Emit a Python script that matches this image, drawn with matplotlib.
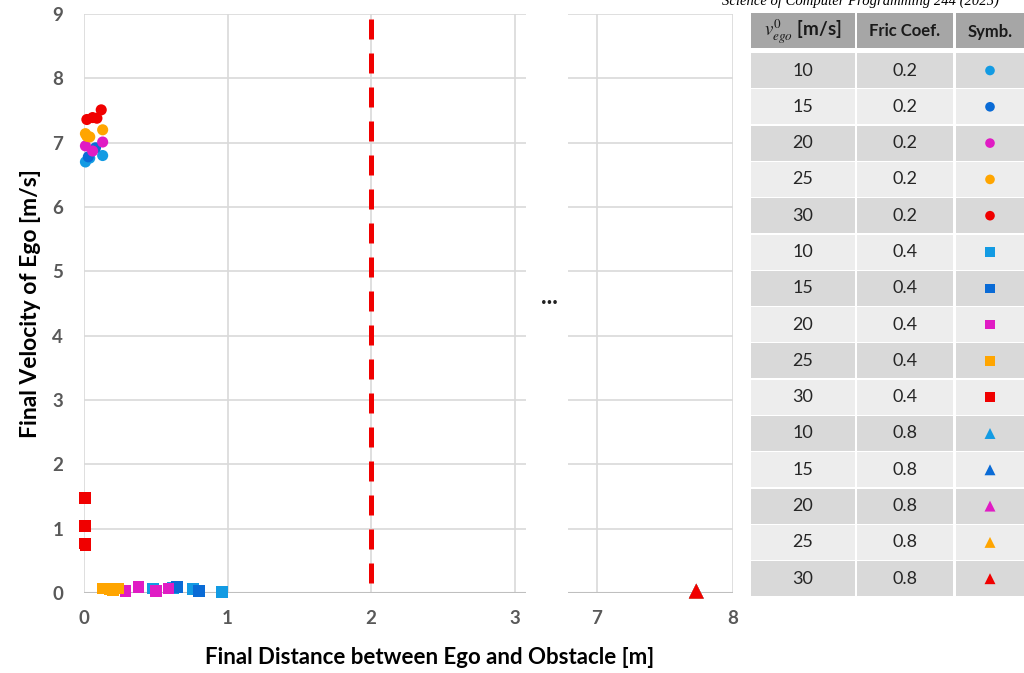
import numpy as np
import matplotlib.pyplot as plt
from matplotlib.patches import Rectangle

plt.rcParams['font.family'] = ['Lato', 'DejaVu Sans']
plt.rcParams['mathtext.fontset'] = 'stix'

# ---- data -------------------------------------------------------------
speeds = [10, 15, 20, 25, 30]
frics = [0.2, 0.4, 0.8]
colors = ['#139be3', '#0a6bd6', '#e01cc4', '#ffa500', '#f00000']
markers = ['o', 's', '^']
msizes = [64, 70, 115]

# fric 0.2 (circles)
circ_x = [[0.01, 0.04, 0.13], [0.03, 0.08], [0.01, 0.06, 0.13],
          [0.02, 0.04, 0.13, 0.01], [0.02, 0.06, 0.09, 0.12]]
circ_y = [[6.70, 6.76, 6.80], [6.78, 6.92], [6.95, 6.87, 7.01],
          [7.10, 7.09, 7.20, 7.14], [7.36, 7.39, 7.38, 7.51]]
# fric 0.4 (squares)
sq_x = [[0.48, 0.62, 0.76, 0.96], [0.65, 0.80], [0.29, 0.38, 0.50, 0.59],
        [0.13, 0.18, 0.20, 0.24], [0.005, 0.005, 0.005, 0.01]]
sq_y = [[0.07, 0.08, 0.06, 0.02], [0.09, 0.03], [0.03, 0.09, 0.03, 0.07],
        [0.07, 0.06, 0.05, 0.07], [1.48, 1.04, 0.77, 0.74]]
# fric 0.8 (triangles)
tri_x = [[7.73], [7.73], [7.73], [7.73], [7.73]]
tri_y = [[0.03], [0.03], [0.03], [0.03], [0.03]]

limit_x = 2.0
limit_y = [0.15, 9.0]

# ---- figure -----------------------------------------------------------
W, H = 1024, 673
fig = plt.figure(figsize=(W / 100, H / 100), dpi=100)

ax1 = fig.add_axes([84 / W, 1 - 593 / H, (526 - 84) / W, (593 - 14) / H])
ax2 = fig.add_axes([568 / W, 1 - 593 / H, (733 - 568) / W, (593 - 14) / H])

tick_col = '#595959'
grid_col = '#d9d9d9'

for ax in (ax1, ax2):
    for s in ax.spines.values():
        s.set_visible(False)
    ax.set_ylim(0, 9)
    ax.set_yticks(range(10))
    ax.grid(True, color=grid_col, lw=1.2)
    ax.set_axisbelow(True)
    ax.axhline(0, color='#bfbfbf', lw=1.5, zorder=1)
    ax.tick_params(length=0, labelsize=13.5, labelcolor=tick_col, pad=15)

ax1.set_xlim(0, 3.08)
ax1.set_xticks([0, 1, 2, 3])
ax2.set_xlim(6.787, 8)
ax2.set_xticks([7, 8])
ax2.tick_params(labelleft=False)
for ax in (ax1, ax2):
    ax.tick_params(axis='x', pad=12)
    for lab in ax.get_xticklabels() + ax.get_yticklabels():
        lab.set_fontweight('bold')

groups = [(circ_x, circ_y), (sq_x, sq_y), (tri_x, tri_y)]
for g, (gx, gy) in enumerate(groups):
    for i in range(len(speeds)):
        for ax in (ax1, ax2):
            ax.scatter(gx[i], gy[i], s=msizes[g], marker=markers[g],
                       color=colors[i], edgecolors='none', zorder=3,
                       clip_on=False)

ax1.plot([limit_x, limit_x], limit_y, color='#f00000', lw=3.6,
         dashes=(4, 2.8), solid_capstyle='butt', dash_capstyle='butt',
         zorder=2)

ax1.set_ylabel('Final Velocity of Ego [m/s]', fontsize=16.5,
               fontweight='bold', labelpad=8)
fig.text(430 / W, 1 - 658 / H, 'Final Distance between Ego and Obstacle [m]',
         ha='center', va='center', fontsize=16, fontweight='bold')
fig.text(549 / W, 1 - 296 / H, '...', ha='center', va='center',
         fontsize=17, fontweight='bold', color='#222222')

fig.text(722 / W, 1 - 5 / H, 'Science of Computer Programming 244 (2025)',
         ha='left', va='baseline', fontsize=10.5, style='italic',
         family='Liberation Serif')

# ---- table ------------------------------------------------------------
tab = fig.add_axes([0, 0, 1, 1])
tab.set_xlim(0, W)
tab.set_ylim(H, 0)
tab.axis('off')
tab.patch.set_visible(False)

col_l = [751, 857, 956]
col_r = [855, 953, 1030]
col_c = [803, 905, 990]
head_top, head_bot = 13, 48
row_top0, row_h, row_step = 53, 35, 36.3

header = [r'$v_{ego}^{0}$ [m/s]', 'Fric Coef.', 'Symb.']
head_fs = [13.5, 12, 12]
for c in range(3):
    tab.add_patch(Rectangle((col_l[c], head_top), col_r[c] - col_l[c],
                            head_bot - head_top, color='#a6a6a6', lw=0))
    tab.text(col_c[c], (head_top + head_bot) / 2 + 1, header[c], ha='center',
             va='center', fontsize=head_fs[c], fontweight='bold',
             color='#1a1a1a')

rows = [(f, sp, ci) for f in range(len(frics)) for ci, sp in enumerate(speeds)]
for r, (f, sp, ci) in enumerate(rows):
    top = row_top0 + r * row_step
    bg = '#d9d9d9' if r % 2 == 0 else '#ededed'
    for c in range(3):
        tab.add_patch(Rectangle((col_l[c], top), col_r[c] - col_l[c], row_h,
                                color=bg, lw=0))
    yc = top + row_h / 2
    tab.text(col_c[0], yc, str(sp), ha='center', va='center', fontsize=13,
             color='#262626')
    tab.text(col_c[1], yc, str(frics[f]), ha='center', va='center',
             fontsize=13, color='#262626')
    tab.scatter([col_c[2]], [yc], s=[48, 46, 62][f], marker=markers[f],
                color=colors[ci], edgecolors='none')

fig.savefig('out.png', dpi=100)
